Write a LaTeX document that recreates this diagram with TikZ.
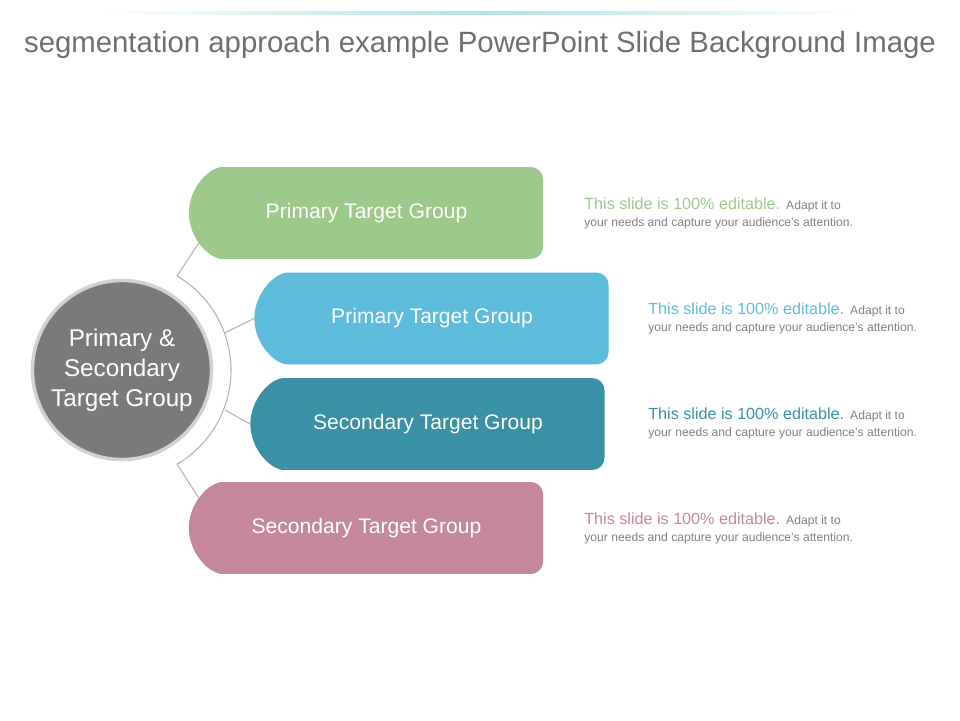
\documentclass[tikz,border=0pt]{standalone}
\usepackage{fontspec}
\setmainfont{Liberation Sans}
\usetikzlibrary{shapes.misc,positioning}
\definecolor{grpgreen}{HTML}{9DC98D}
\definecolor{grpblue}{HTML}{5DBCDB}
\definecolor{grpteal}{HTML}{3A90A5}
\definecolor{grpmauve}{HTML}{C4879D}
\definecolor{hubgray}{HTML}{7A7A7A}
\definecolor{titlegray}{HTML}{6E6E6E}
\tikzset{
	grpbox/.style={
		rounded rectangle,
		rounded rectangle right arc=none,
		rounded corners=7pt,
		minimum width=7.32cm,
		minimum height=1.84cm,
		text=white,
		font=\fontsize{12}{14}\selectfont
	}
}
\begin{document}
\begin{tikzpicture}[x=0.02cm,y=-0.02cm]
			\tikzstyle{note}=[anchor=north west, align=left, inner sep=0pt, font=\fontsize{9.2}{10}\selectfont]
			\tikzstyle{connect}=[draw=gray!60, line width=0.6pt]
			\useasboundingbox (0,0) rectangle (960,720);
			\shade[left color=white, right color=white, middle color=cyan!25!teal!30] (100,11) rectangle (860,14);
			\node[text=titlegray, font=\fontsize{16.7}{18}\selectfont] (title) at (480,45) {segmentation approach example PowerPoint Slide Background Image};

			\node[grpbox, fill=grpgreen] (g1) at (366.5,213) {Primary Target Group};
			\node[grpbox, fill=grpblue] (g2) at (432,318.5) {Primary Target Group};
			\node[grpbox, fill=grpteal] (g3) at (428,424) {Secondary Target Group};
			\node[grpbox, fill=grpmauve] (g4) at (366.5,528) {Secondary Target Group};

			% arc round the hub
			\draw[connect] (177,276) arc[start angle=-59.7, end angle=59.7, radius=109];
			\coordinate (a1) at (177,276);
			\coordinate (a2) at (224.5,333);
			\coordinate (a3) at (225,410);
			\coordinate (a4) at (177,464);
			\draw[connect] (a1) -- (g1.190);
			\draw[connect] (a2) -- (g2.west);
			\draw[connect] (a3) -- (g3.west);
			\draw[connect] (a4) -- (g4.170);

			\node[circle, fill=hubgray, draw=gray!35, line width=2pt, minimum size=3.56cm, text=white, align=center, font=\fontsize{13.8}{17}\selectfont] (hub) at (122,370) {Primary \&\\Secondary\\Target Group};

			\node[note] (n1) at (584,197) {\textcolor{grpgreen}{This slide is 100\% editable.} {\color{gray}\fontsize{6.9}{9}\selectfont Adapt it to}\\{\color{gray}\fontsize{6.9}{9}\selectfont your needs and capture your audience's attention.}};
			\node[note] (n2) at (648,302) {\textcolor{grpblue}{This slide is 100\% editable.} {\color{gray}\fontsize{6.9}{9}\selectfont Adapt it to}\\{\color{gray}\fontsize{6.9}{9}\selectfont your needs and capture your audience's attention.}};
			\node[note] (n3) at (648,407) {\textcolor{grpteal}{This slide is 100\% editable.} {\color{gray}\fontsize{6.9}{9}\selectfont Adapt it to}\\{\color{gray}\fontsize{6.9}{9}\selectfont your needs and capture your audience's attention.}};
			\node[note] (n4) at (584,512) {\textcolor{grpmauve}{This slide is 100\% editable.} {\color{gray}\fontsize{6.9}{9}\selectfont Adapt it to}\\{\color{gray}\fontsize{6.9}{9}\selectfont your needs and capture your audience's attention.}};
\end{tikzpicture}
\end{document}
